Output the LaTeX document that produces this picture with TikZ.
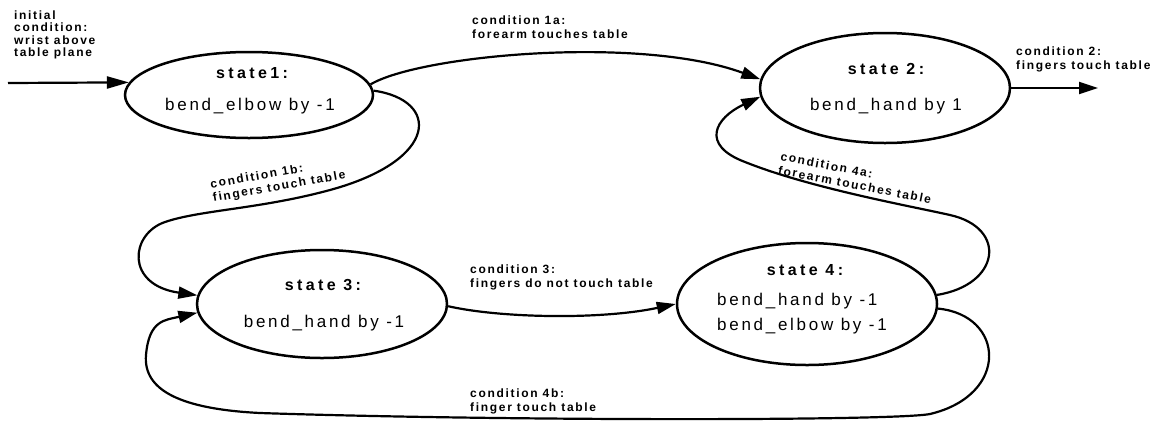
\documentclass[tikz,border=0pt]{standalone}
\usepackage{fontspec}
\setmainfont{Liberation Sans}
\newfontfamily\lspaced{Liberation Sans}[LetterSpace=14]
\newfontfamily\aspaced{Liberation Sans}[LetterSpace=16]
\newfontfamily\tspaced{Liberation Sans}[LetterSpace=21]
\usetikzlibrary{shapes.geometric,arrows.meta}
\begin{document}
\begin{tikzpicture}[x=1pt,y=-1pt,
  state/.style={draw, ellipse, line width=2.5pt, inner sep=0pt},
  conn/.style={line width=2.2pt, -{Triangle[length=19pt,width=12pt]}},
  lbl/.style={inner sep=0pt, anchor=north west, align=left,
    font=\lspaced\bfseries\fontsize{12}{14}\selectfont},
  ttl/.style={inner sep=0pt, anchor=base,
    font=\tspaced\bfseries\fontsize{16}{19}\selectfont},
  act/.style={inner sep=0pt, anchor=base,
    font=\aspaced\fontsize{17}{20}\selectfont},
]
\useasboundingbox (0,0) rectangle (1158,421);

% states
\node[state, minimum width=248pt, minimum height=86pt]  (s1) at (249,95) {};
\node[state, minimum width=250pt, minimum height=110pt] (s2) at (885,88) {};
\node[state, minimum width=250pt, minimum height=108pt] (s3) at (322,304) {};
\node[state, minimum width=260pt, minimum height=122pt] (s4) at (807,304) {};

% state texts
\node[ttl] (s1t) at (252,78) {state1:};
\node[act] (s1a) at (250,110) {bend\_elbow by -1};
\node[ttl] (s2t) at (886,74) {state 2:};
\node[act] (s2a) at (886,110) {bend\_hand by 1};
\node[ttl] (s3t) at (323,290) {state 3:};
\node[act] (s3a) at (324,327) {bend\_hand by -1};
\node[ttl] (s4t) at (805,275) {state 4:};
\node[act, anchor=base west] (s4a) at (717,305) {bend\_hand by -1};
\node[act, anchor=base west] (s4b) at (717,330) {bend\_elbow by -1};

% free ends
\coordinate (init) at (8,83);
\coordinate (c2end) at (1098,88);

% connectors
\draw[conn, -{Triangle[length=22pt,width=12pt]}] (init) -- (s1.174);
\draw[conn] (s1.5) .. controls (420,55) and (640,35) .. (s2.176);
\draw[conn] (s1.2) .. controls (440,100) and (440,160) .. (330,190)
  .. controls (260,209) and (200,210) .. (165,222)
  .. controls (130,234) and (125,285) .. (s3.176);
\draw[conn] (s2.0) -- (c2end);
\draw[conn] (s3.359) .. controls (500,318) and (600,320) .. (s4.180);
\draw[conn] (s4.4) .. controls (1000,285) and (1008,228) .. (950,215)
  .. controls (910,206) and (810,188) .. (745,162)
  .. controls (700,145) and (715,118) .. (s2.184);
\draw[conn] (s4.358) .. controls (1005,315) and (1010,395) .. (930,414)
  .. controls (895,421) and (500,421) .. (260,413)
  .. controls (180,409) and (143,390) .. (146,355)
  .. controls (149,320) and (165,320) .. (s3.184);

% labels
\node[lbl, font=\lspaced\bfseries\fontsize{12}{12.5}\selectfont] (linit) at (14,10.3)
  {initial\\condition:\\wrist above\\table plane};
\node[lbl] (l1a) at (472,15.3) {condition 1a:\\forearm touches table};
\node[lbl, rotate=10] (l1b) at (209.5,179.4) {condition 1b:\\fingers touch table};
\node[lbl] (l2) at (1016,46.3) {condition 2:\\fingers touch table};
\node[lbl] (l3) at (470,264.3) {condition 3:\\fingers do not touch table};
\node[lbl, rotate=-11] (l4a) at (781.7,151.5) {condition 4a:\\forearm touches table};
\node[lbl] (l4b) at (470,388.3) {condition 4b:\\finger touch table};
\end{tikzpicture}
\end{document}
